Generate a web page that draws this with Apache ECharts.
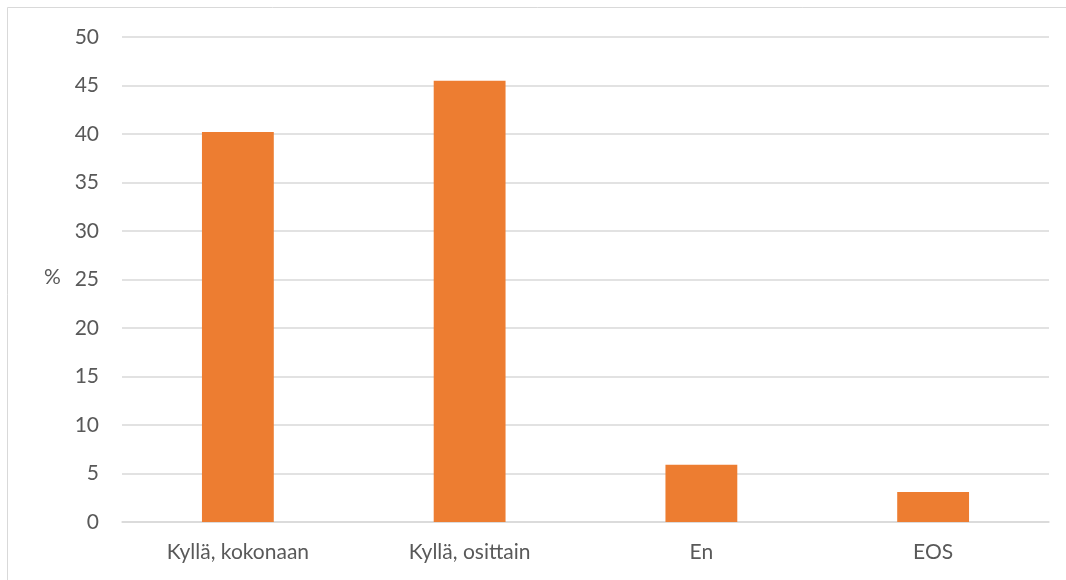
<!DOCTYPE html>
<html>
<head>
<meta charset="utf-8">
<script src="https://cdn.jsdelivr.net/npm/echarts@6/dist/echarts.min.js"></script>
<style>html,body{margin:0;padding:0;background:#fff}#c{width:1066px;height:580px}</style>
</head>
<body>
<div id="c"></div>
<script>
const categories = ['Kyllä, kokonaan', 'Kyllä, osittain', 'En', 'EOS'];
const values = [40.2, 45.5, 5.9, 3.1];
const yTicks = {min: 0, max: 50, interval: 5};
const axisName = '%';

const FONT = 'Lato, "Open Sans", sans-serif';
const chart = echarts.init(document.getElementById('c'), null, {renderer: 'canvas'});
chart.setOption({
  animation: false,
  backgroundColor: '#ffffff',
  graphic: [
    {type: 'rect', shape: {x: 7.5, y: 7.5, width: 1100, height: 700}, style: {fill: 'none', stroke: '#d9d9d9', lineWidth: 1}, silent: true},
    {type: 'text', left: 44, top: 267, style: {text: axisName, font: '21px ' + FONT, fill: '#595959'}}
  ],
  grid: {left: 122, right: 17, top: 37, bottom: 58, containLabel: false},
  xAxis: {
    type: 'category',
    data: categories,
    axisTick: {show: false},
    axisLine: {lineStyle: {color: '#d9d9d9', width: 1.5}},
    axisLabel: {color: '#595959', fontSize: 21, fontFamily: FONT, margin: 20}
  },
  yAxis: {
    type: 'value',
    min: yTicks.min, max: yTicks.max, interval: yTicks.interval,
    axisLine: {show: false},
    axisTick: {show: false},
    splitLine: {lineStyle: {color: '#d9d9d9', width: 1.5}},
    axisLabel: {color: '#595959', fontSize: 21, fontFamily: FONT, margin: 23}
  },
  series: [{
    type: 'bar',
    data: values,
    barWidth: '31%',
    itemStyle: {color: '#ed7d31'}
  }]
});
</script>
</body>
</html>
